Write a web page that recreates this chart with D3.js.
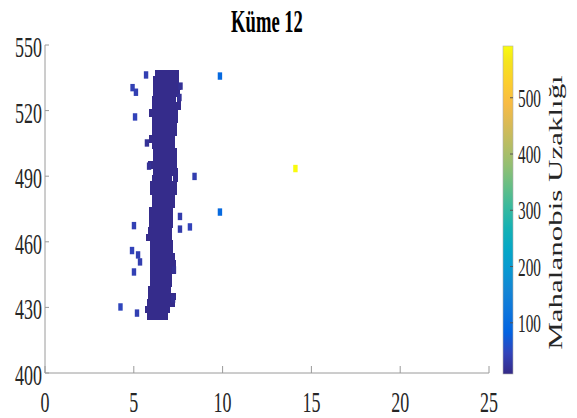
<!DOCTYPE html>
<html><head><meta charset="utf-8">
<script src="https://cdn.jsdelivr.net/npm/d3@7"></script>
<style>body{margin:0;background:#fff} svg{display:block}</style>
</head><body>
<script>
// ---------- data ----------
const titleText = "Küme 12";
const colorbarLabel = "Mahalanobis Uzaklığı";
const xTicks = [0, 5, 10, 15, 20, 25];
const yTicks = [400, 430, 460, 490, 520, 550];
const cbTicks = [100, 200, 300, 400, 500];
const xDomain = [0, 25];
const yDomain = [400, 550];
const distDomain = [9, 592];

// dense cluster, read row by row (y value, x positions)
const clusterRowY = [537,534,531,528,525,522,519,516,513,510,507,504,501,498,495,492,489,486,483,480,477,474,471,468,465,462,459,456,453,450,447,444,441,438,435,432,429,426];
const clusterRowX = [
  [6.32,6.54,6.76,6.98,7.2,7.42],
  [6.2,6.42,6.64,6.86,7.08,7.3,7.4],
  [6.2,6.42,6.64,6.86,7.08,7.3,7.5],
  [6.2,6.42,6.64,6.86,7.08,7.3,7.45],
  [6.15,6.37,6.59,6.81,7.03,7.25,7.55],
  [6.15,6.37,6.59,6.81,7.03,7.25,7.5],
  [5.98,6.2,6.42,6.64,6.86,7.08,7.35],
  [6.15,6.37,6.59,6.81,7.03,7.25,7.35],
  [6.15,6.37,6.59,6.81,7.03,7.3],
  [6.15,6.37,6.59,6.81,7.03,7.3],
  [5.98,6.18,6.4,6.62,6.84,7.06,7.2],
  [6.15,6.37,6.59,6.81,7.03,7.2],
  [6.2,6.42,6.64,6.86,7.08,7.3],
  [6.2,6.42,6.64,6.86,7.08,7.3],
  [5.92,6.14,6.36,6.58,6.8,7.02,7.3],
  [6.2,6.42,6.64,6.86,7.08,7.36],
  [6.15,6.37,6.59,6.81,7.03,7.36],
  [6.04,6.26,6.48,6.7,6.92,7.14,7.3],
  [6.04,6.26,6.48,6.7,6.92,7.14,7.31],
  [6.15,6.37,6.59,6.81,7.03,7.2],
  [6.15,6.37,6.59,6.81,7.03,7.19],
  [5.98,6.2,6.42,6.64,6.86,7.08],
  [5.98,6.2,6.42,6.64,6.86,7.08],
  [5.98,6.2,6.42,6.64,6.86,7.08],
  [5.92,6.14,6.36,6.58,6.8,7.02],
  [5.8,6.02,6.24,6.46,6.68,6.9,7.02],
  [6.04,6.26,6.48,6.7,6.92,7.08],
  [6.04,6.26,6.48,6.7,6.92,7.08],
  [6.04,6.26,6.48,6.7,6.92,7.14,7.19],
  [6.04,6.26,6.48,6.7,6.92,7.14,7.25],
  [6.04,6.26,6.48,6.7,6.92,7.14,7.25],
  [6.04,6.26,6.48,6.7,6.92,7.02],
  [6.04,6.26,6.48,6.7,6.92,7.02],
  [5.92,6.14,6.36,6.58,6.8,6.97],
  [5.92,6.14,6.36,6.58,6.8,7.02,7.25],
  [5.86,6.08,6.3,6.52,6.74,6.96,7.2],
  [5.75,5.97,6.19,6.41,6.63,6.85,6.91],
  [5.86,6.08,6.3,6.52,6.74,6.8]
];
const clusterDist = 12;

// scattered points
const outlierX = [5.69,4.93,5.12,5.07,7.63,7.57,8.42,7.60,7.60,8.16,5.01,4.90,5.24,5.35,5.01,4.25,5.18,5.74,5.86,7.26,7.21,9.85,9.85,14.1];
const outlierY = [536.3,530.5,528.4,517.1,531.2,526.0,489.9,471.6,465.8,466.8,467.4,456.0,454.0,450.8,446.2,430.2,427.4,505.2,494.6,447.1,433.8,535.8,473.6,493.5];
const outlierD = [40,42,40,45,20,20,38,35,35,45,42,45,40,38,42,48,40,20,20,18,18,95,98,592];

// parula colour table (style)
const parulaRGB = [
  [0.2081,0.1663,0.5292],[0.1959,0.2645,0.7279],[0.0117,0.3875,0.8820],[0.0498,0.4586,0.8641],
  [0.0793,0.5200,0.8312],[0.0343,0.5966,0.8199],[0.0228,0.6535,0.7768],[0.0843,0.6928,0.7062],
  [0.2178,0.7250,0.6193],[0.3953,0.7459,0.5244],[0.5709,0.7485,0.4494],[0.7184,0.7411,0.3905],
  [0.8507,0.7299,0.3360],[0.9739,0.7314,0.2666],[0.9880,0.8066,0.1794],[0.9589,0.8949,0.1132],
  [0.9763,0.9831,0.0538]
];
const parulaPos = [0,4,8,12,16,20,24,28,32,36,40,44,48,52,56,60,63].map(r => r/63);

// ---------- layout ----------
const W = 577, H = 418;
const plot = {left: 45, right: 489, top: 45, bottom: 373};
const cb = {x: 503, w: 10, top: 46, bottom: 374};
const SX = 0.6; // horizontal squeeze of the original figure
const FONT = "'Liberation Serif','Times New Roman',serif";

const svg = d3.select("body").append("svg").attr("width", W).attr("height", H);

const x = d3.scaleLinear().domain(xDomain).range([plot.left, plot.right]);
const y = d3.scaleLinear().domain(yDomain).range([plot.bottom, plot.top]);
const parulaColors = parulaRGB.map(c => d3.rgb(c[0]*255, c[1]*255, c[2]*255).formatHex());
const color = d3.scaleLinear()
  .domain(parulaPos.map(p => distDomain[0] + p*(distDomain[1]-distDomain[0])))
  .range(parulaColors).clamp(true);
const cy = d3.scaleLinear().domain(distDomain).range([cb.bottom, cb.top]);

function label(g, px, py, str, size, anchor, opts = {}) {
  const t = g.append("g").attr("transform",
    `translate(${px},${py}) scale(${SX},1)` + (opts.rotate ? ` rotate(${opts.rotate})` : ""));
  t.append("text").attr("x", 0).attr("y", 0)
    .attr("text-anchor", anchor)
    .attr("font-family", FONT).attr("font-size", size)
    .attr("font-weight", opts.bold ? "bold" : "normal")
    .attr("fill", opts.fill || "#262626")
    .text(str);
}

// ---------- points ----------
const clusterPts = [];
clusterRowY.forEach((yy, i) => clusterRowX[i].forEach(xx => clusterPts.push({x: xx, y: yy, d: clusterDist})));
const outlierPts = outlierX.map((xx, i) => ({x: xx, y: outlierY[i], d: outlierD[i]}))
  .sort((a, b) => a.d - b.d);

const mw = 4.6, mh = 7.6;
svg.append("g").attr("shape-rendering", "crispEdges").selectAll("rect").data(clusterPts).join("rect")
  .attr("x", d => x(d.x) - mw/2).attr("y", d => y(d.y) - mh/2)
  .attr("width", mw).attr("height", mh)
  .attr("fill", d => color(d.d));
svg.append("g").selectAll("rect").data(outlierPts).join("rect")
  .attr("x", d => x(d.x) - 2.2).attr("y", d => y(d.y) - 3.7)
  .attr("width", 4.4).attr("height", 7.4)
  .attr("fill", d => color(d.d));

// ---------- axes ----------
const axisColor = "#9a9a9a";
const ax = svg.append("g");
ax.append("line").attr("x1", plot.left).attr("x2", plot.left).attr("y1", plot.top).attr("y2", plot.bottom)
  .attr("stroke", axisColor).attr("stroke-width", 1);
ax.append("line").attr("x1", plot.left).attr("x2", plot.right).attr("y1", plot.bottom).attr("y2", plot.bottom)
  .attr("stroke", axisColor).attr("stroke-width", 1);
xTicks.forEach(t => {
  ax.append("line").attr("x1", x(t)).attr("x2", x(t)).attr("y1", plot.bottom).attr("y2", plot.bottom - 7)
    .attr("stroke", axisColor).attr("stroke-width", 1);
  label(ax, x(t), 412, String(t), 30, "middle");
});
yTicks.forEach(t => {
  ax.append("line").attr("x1", plot.left).attr("x2", plot.left + 4).attr("y1", y(t)).attr("y2", y(t))
    .attr("stroke", axisColor).attr("stroke-width", 1);
  label(ax, 42, y(t) + 12, String(t), 30, "end");
});

// ---------- title ----------
label(svg, (plot.left + plot.right)/2, 32, titleText, 31, "middle", {bold: true, fill: "#000"});

// ---------- colorbar ----------
const grad = svg.append("defs").append("linearGradient").attr("id", "parula")
  .attr("x1", 0).attr("y1", 1).attr("x2", 0).attr("y2", 0);
grad.selectAll("stop").data(parulaColors).join("stop")
  .attr("offset", (d, i) => parulaPos[i]).attr("stop-color", d => d);
svg.append("rect").attr("x", cb.x).attr("y", cb.top).attr("width", cb.w).attr("height", cb.bottom - cb.top)
  .attr("fill", "url(#parula)").attr("stroke", "#b0b0b0").attr("stroke-width", 0.6);
cbTicks.forEach(t => {
  svg.append("line").attr("x1", cb.x + cb.w).attr("x2", cb.x + cb.w - 3).attr("y1", cy(t)).attr("y2", cy(t))
    .attr("stroke", "#555").attr("stroke-width", 1);
  label(svg, 518, cy(t) + 9, String(t), 25.5, "start");
});
label(svg, 562, (73 + 352)/2, colorbarLabel, 31, "middle", {rotate: -90});
</script>
</body></html>
